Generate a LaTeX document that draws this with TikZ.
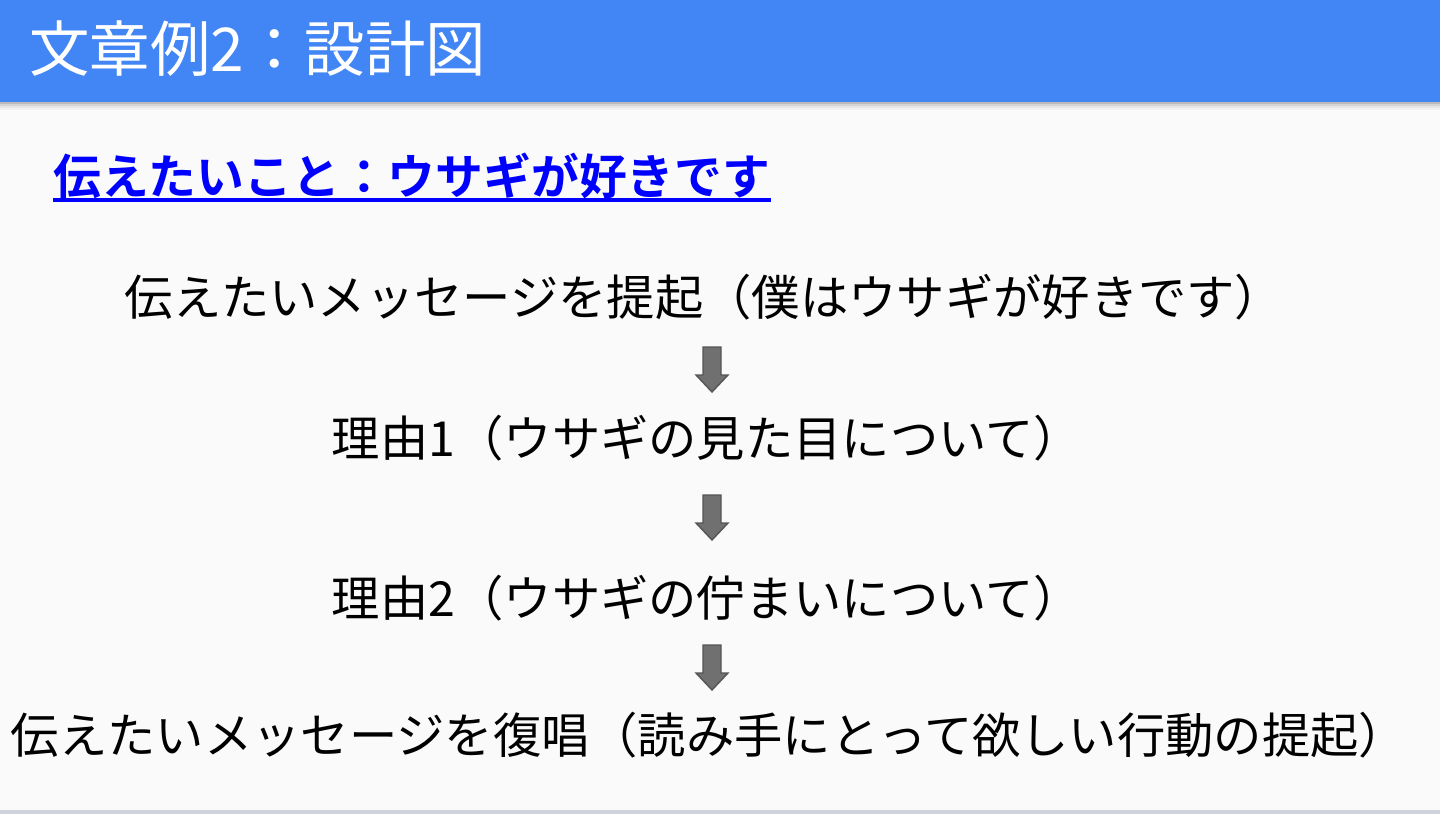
\documentclass[tikz,border=0pt]{standalone}
\usepackage{fontspec}
\setmainfont{Noto Sans CJK JP}[BoldFont={Noto Sans CJK JP Bold}]
\definecolor{headblue}{RGB}{66,133,244}
\definecolor{pagebg}{RGB}{250,250,250}
\definecolor{arrowgray}{RGB}{112,112,112}
\definecolor{arrowedge}{RGB}{85,85,85}
\definecolor{footline}{RGB}{206,212,222}
\tikzset{
  line/.style={anchor=base, inner sep=0pt, font=\fontsize{27.5pt}{30pt}\selectfont},
  downarrow/.style={draw=arrowedge, fill=arrowgray, line width=0.8pt, line join=miter}
}
\begin{document}
\begin{tikzpicture}[x=0.02cm, y=-0.02cm]
\useasboundingbox (0,0) rectangle (1440,814);
\fill[pagebg] (0,0) rectangle (1440,814);
\foreach \d/\o in {0/0.25,2/0.15,4/0.08,6/0.03}{
\fill[black, opacity=\o] (0,102+\d) rectangle (1440,104+\d);
}
\fill[headblue] (0,0) rectangle (1440,102);
\fill[footline] (0,810) rectangle (1440,814);
\node[anchor=base west, inner sep=0pt, text=white,
  font=\fontsize{34.4pt}{38pt}\selectfont] (title) at (29,72) {文章例2：設計図};
\node[anchor=base west, inner sep=0pt, text=blue,
  font=\bfseries\fontsize{27.2pt}{30pt}\selectfont] (goal) at (53,195) {伝えたいこと：ウサギが好きです};
\draw[blue, line width=0.08cm] ([yshift=-0.1cm]goal.base west) -- ([yshift=-0.1cm]goal.base east);
\node[line] (msg) at (704,316) {伝えたいメッセージを提起（僕はウサギが好きです）};
\node[line] (reason1) at (707,456) {理由1（ウサギの見た目について）};
\node[line] (reason2) at (707,616) {理由2（ウサギの佇まいについて）};
\node[line] (recap) at (709,753) {伝えたいメッセージを復唱（読み手にとって欲しい行動の提起）};
\foreach \y in {369.5,517.5,667.5}{
\draw[downarrow] (703,{\y-22.5}) -- (721,{\y-22.5}) -- (721,{\y+5.5}) -- (728,{\y+5.5})
  -- (712,{\y+22.5}) -- (696,{\y+5.5}) -- (703,{\y+5.5}) -- cycle;
}
\end{tikzpicture}
\end{document}
